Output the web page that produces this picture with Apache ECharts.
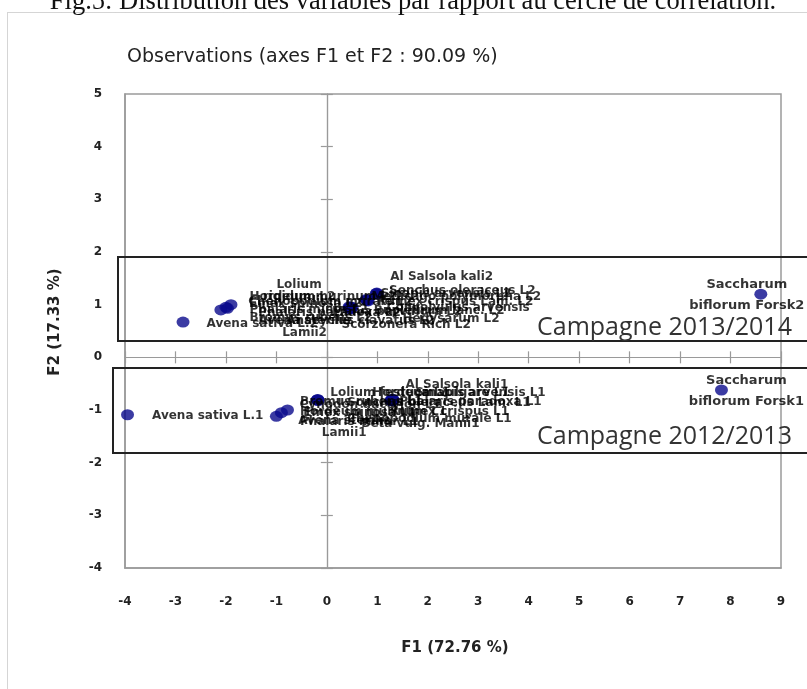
<!DOCTYPE html>
<html><head><meta charset="utf-8">
<script src="https://cdn.jsdelivr.net/npm/echarts@6/dist/echarts.min.js"></script>
<style>html,body{margin:0;padding:0;background:#fff}#c{width:807px;height:689px}</style>
</head><body><div id="c"></div>
<script>
// ---- data ----
const figCaption = 'Fig.5: Distribution des variables par rapport au cercle de corrélation.';
const chartTitle = 'Observations (axes F1 et F2 : 90.09 %)';
const xAxisName = 'F1 (72.76 %)';
const yAxisName = 'F2 (17.33 %)';
const xTickValues = [-4, -3, -2, -1, 0, 1, 2, 3, 4, 5, 6, 7, 8, 9];
const yTickValues = [-4, -3, -2, -1, 0, 1, 2, 3, 4, 5];
const campaignLabels = ['Campagne 2013/2014', 'Campagne 2012/2013'];

// Campaign 2013/2014 observations (suffix 2)
const obs2Names = [
  'Avena sativa L.2', 'Phalaris minor L2', 'Hordeum murinum L2', 'Bromus rubens L2', 'Emex spinosa L2',
  'Lolium\nrigidum L2', 'Avena sterilis\nLamii2', 'Chenopodium murale L2',
  'Scorzonera Rich L2', 'Sinapis arvensis L2', 'Al Salsola kali2',
  'Sonchus oleraceus L2', 'Rumex crispus Lam. L2', 'Bupleurum lanc. L2', 'Hedysarum L2', 'Malva parviflora L2',
  'Phalaris paradoxa L2', 'Medicago polymorpha L2', 'Convolvulus arvensis', 'Anacyclus clavatus L2',
  'Saccharum\nbiflorum Forsk2'
];
const obs2F1 = [-2.85, -2.1, -2.0, -1.9, -1.97, 0.44, 0.45, 0.47, 0.46, 0.8, 0.99, 1.0, 0.8, 0.78, 0.48, 0.5, 0.45, 0.98, 0.82, 0.47, 8.6];
const obs2F2 = [0.67, 0.90, 0.95, 1.00, 0.93, 0.96, 0.93, 0.95, 0.94, 1.09, 1.22, 1.20, 1.08, 1.10, 0.93, 0.95, 0.94, 1.21, 1.07, 0.92, 1.20];

// Campaign 2012/2013 observations (suffix 1)
const obs1Names = [
  'Avena sativa L.1', 'Phalaris minor L1', 'Hordeum murinum L1', 'Bromus rubens L1',
  'Lolium festuca L1', 'Al Salsola kali1', 'Sinapis arvensis L1', 'Sonchus oleraceus Lam. L1',
  'Rumex crispus L1', 'Cynodon dactylon L1', 'Beta vulg. Manii1', 'Avena sterilis\nLamii1',
  'Hordeum vulgare L1', 'Emex spinosa L1', 'Chenopodium murale L1', 'Phalaris paradoxa L1',
  'Saccharum\nbiflorum Forsk1'
];
const obs1F1 = [-3.95, -1.0, -0.9, -0.78, -0.18, 1.29, 1.3, 1.27, 1.28, -0.17, 1.3, -0.19, 1.31, -0.18, 1.28, 1.3, 7.82];
const obs1F2 = [-1.09, -1.12, -1.05, -1.00, -0.81, -0.81, -0.80, -0.82, -0.81, -0.82, -0.82, -0.81, -0.80, -0.80, -0.82, -0.81, -0.62];

// ---- label placement (styling only): [position, dx, dy, fontSize, lineHeight] ----
const place2 = [
  ['right', 17, 2], ['right', 22, 0], ['right', 17, -10], ['right', 12, 13], ['right', 15, -4],
  ['inside', -50, -16], ['inside', -45, 19], ['inside', -20, -5],
  ['right', -15, 17], ['right', 7, -6], ['right', 7, -16],
  ['inside', 85, -3], ['inside', 88, 1], ['inside', 73, 11], ['inside', 100, 11], ['inside', 45, 5],
  ['inside', -20, 5], ['inside', 80, 3], ['inside', 90, 7], ['inside', 10, 12],
  ['inside', -14, 1, 13, 21]
];
const place1 = [
  ['right', 18, 1], ['right', 17, 6], ['right', 12, -1], ['right', 6, -8],
  ['right', 6, -7], ['right', 7, -15], ['inside', 88, -7], ['inside', 48, 2],
  ['inside', 58, 12], ['inside', 52, 4], ['inside', 28, 23], ['inside', 27, 27],
  ['inside', 48, -7], ['inside', 42, 13], ['inside', 38, 18], ['inside', 78, 2],
  ['inside', 25, 1, 13, 21]
];

const labelFont = '"DejaVu Sans", sans-serif';
function buildItems(names, xs, ys, places) {
  return names.map((n, i) => {
    const p = places[i];
    return {
      name: n,
      value: [xs[i], ys[i]],
      label: {
        position: p[0],
        distance: 0,
        offset: [p[1], p[2]],
        fontSize: p[3] || 12,
        lineHeight: p[4] || 12
      }
    };
  });
}

const chart = echarts.init(document.getElementById('c'));
const G = { left: 125, top: 94, right: 26, bottom: 121 };
const axisGray = '#9a9a9a';
const tickFont = { fontFamily: '"DejaVu Sans", sans-serif', fontWeight: 'bold', fontSize: 12, color: '#222' };
const nameFont = 'bold 15px "DejaVu Sans", sans-serif';

const baseX = { type: 'value', min: -4, max: 9, interval: 1, splitLine: { show: false } };
const baseY = { type: 'value', min: -4, max: 5, interval: 1, splitLine: { show: false } };

const zeroAxis = (inside) => ({
  axisLine: { onZero: true, onZeroAxisIndex: 0, lineStyle: { color: axisGray, width: 1.2 } },
  axisTick: { show: true, inside: inside, length: 6, lineStyle: { color: axisGray, width: 1.2 } },
  axisLabel: { show: false }
});

const scatterBase = {
  type: 'scatter', xAxisIndex: 0, yAxisIndex: 0,
  symbol: 'circle', symbolSize: [13, 11],
  itemStyle: { color: '#0a0a8c' },
  label: { show: true, formatter: p => p.name, fontFamily: labelFont, fontWeight: 'bold', color: '#000' }
};

chart.setOption({
  animation: false,
  backgroundColor: '#fff',
  grid: { left: G.left, top: G.top, right: G.right, bottom: G.bottom, show: true, borderColor: axisGray, borderWidth: 1.5 },
  xAxis: [
    Object.assign({}, baseX, {
      position: 'bottom',
      axisLine: { onZero: false, lineStyle: { color: axisGray, width: 1.5 } },
      axisTick: { show: false },
      axisLabel: Object.assign({ margin: 28, formatter: v => xTickValues.includes(v) ? String(v) : '' }, tickFont)
    }),
    Object.assign({}, baseX, { position: 'bottom' }, zeroAxis(false)),
    Object.assign({}, baseX, { position: 'bottom' }, zeroAxis(true))
  ],
  yAxis: [
    Object.assign({}, baseY, {
      position: 'left',
      axisLine: { onZero: false, lineStyle: { color: axisGray, width: 1.5 } },
      axisTick: { show: false },
      axisLabel: Object.assign({ margin: 23, formatter: v => yTickValues.includes(v) ? String(v) : '' }, tickFont)
    }),
    Object.assign({}, baseY, { position: 'left' }, zeroAxis(false)),
    Object.assign({}, baseY, { position: 'left' }, zeroAxis(true))
  ],
  series: [
    Object.assign({}, scatterBase, { name: 'Campagne 2013/2014', data: buildItems(obs2Names, obs2F1, obs2F2, place2) }),
    Object.assign({}, scatterBase, { name: 'Campagne 2012/2013', data: buildItems(obs1Names, obs1F1, obs1F2, place1) })
  ],
  graphic: [
    { type: 'rect', silent: true, z: -1, shape: { x: 7.5, y: 12.5, width: 900, height: 800 }, style: { fill: 'none', stroke: '#aaa', lineWidth: 1, lineDash: [1, 1] } },
    { type: 'text', silent: true, style: { text: figCaption, x: 413, y: 16, textAlign: 'center', textVerticalAlign: 'bottom', verticalAlign: 'bottom', font: '26.5px "Liberation Serif", serif', fill: '#111' } },
    { type: 'text', silent: true, style: { text: chartTitle, x: 127, y: 57, verticalAlign: 'middle', textVerticalAlign: 'middle', font: '19px "DejaVu Sans", sans-serif', fill: '#222' } },
    { type: 'text', silent: true, style: { text: xAxisName, x: 455, y: 648, align: 'center', textAlign: 'center', verticalAlign: 'middle', textVerticalAlign: 'middle', font: nameFont, fill: '#222' } },
    { type: 'text', silent: true, rotation: Math.PI / 2, x: 55, y: 322, style: { text: yAxisName, x: 0, y: 0, align: 'center', textAlign: 'center', verticalAlign: 'middle', textVerticalAlign: 'middle', font: nameFont, fill: '#222' } },
    { type: 'rect', silent: true, z: 10, shape: { x: 118, y: 257, width: 720, height: 84 }, style: { fill: 'none', stroke: '#222', lineWidth: 2 } },
    { type: 'rect', silent: true, z: 10, shape: { x: 113, y: 368, width: 720, height: 85 }, style: { fill: 'none', stroke: '#222', lineWidth: 2 } },
    { type: 'text', silent: true, z: 10, style: { text: campaignLabels[0], x: 537, y: 340, textVerticalAlign: 'bottom', verticalAlign: 'bottom', font: '25px "Open Sans", sans-serif', fill: '#333' } },
    { type: 'text', silent: true, z: 10, style: { text: campaignLabels[1], x: 537, y: 449, textVerticalAlign: 'bottom', verticalAlign: 'bottom', font: '25px "Open Sans", sans-serif', fill: '#333' } }
  ]
});
</script>
</body></html>
